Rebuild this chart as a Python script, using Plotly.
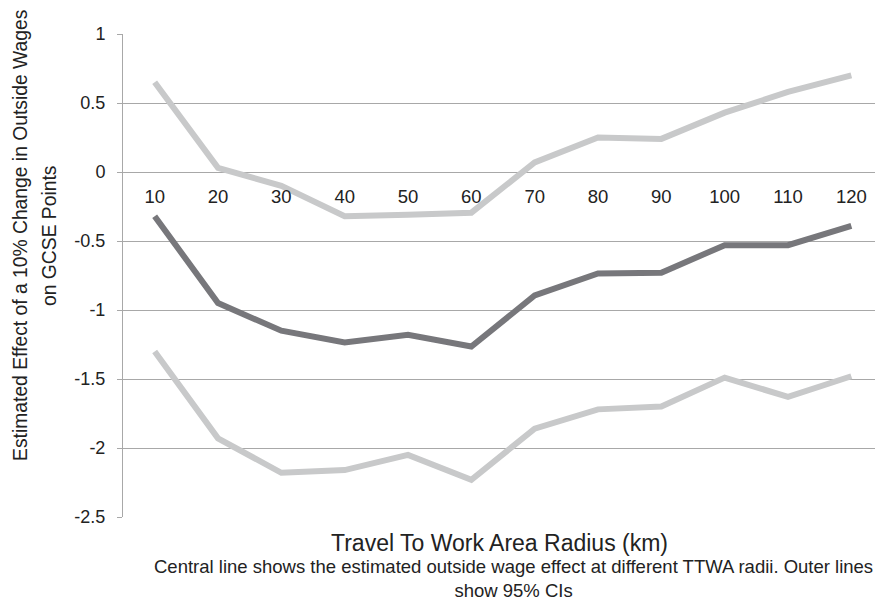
import plotly.graph_objects as go

radius = ["10", "20", "30", "40", "50", "60", "70", "80", "90", "100", "110", "120"]
upper_ci = [0.65, 0.03, -0.10, -0.32, -0.31, -0.295, 0.07, 0.25, 0.24, 0.43, 0.58, 0.70]
estimate = [-0.32, -0.95, -1.15, -1.235, -1.18, -1.265, -0.895, -0.735, -0.73, -0.53, -0.53, -0.39]
lower_ci = [-1.30, -1.93, -2.18, -2.16, -2.05, -2.23, -1.86, -1.72, -1.70, -1.49, -1.63, -1.48]

y_ticks = [1, 0.5, 0, -0.5, -1, -1.5, -2, -2.5]
y_min, y_max = -2.5, 1

light = "#c8c9ca"
dark = "#77777b"
text_col = "#222222"

fig = go.Figure()
for vals, col in [(upper_ci, light), (lower_ci, light), (estimate, dark)]:
    fig.add_trace(go.Scatter(x=radius, y=vals, mode="lines",
                             line=dict(color=col, width=6), showlegend=False))

zero_pos = (0 - y_min) / (y_max - y_min)

# page body has an 8px margin; the figure is sized to fit the window
fig.update_layout(
    width=875, height=599,
    margin=dict(l=115, r=0, t=26, b=90),
    paper_bgcolor="white", plot_bgcolor="white",
    font=dict(family="Liberation Sans, Arial, sans-serif", color=text_col),
    xaxis=dict(type="category", range=[-0.5, 11.5], anchor="free", position=zero_pos,
               showgrid=False, showline=False, zeroline=False, ticks="",
               ticklabelstandoff=11,
               tickfont=dict(size=18.5, color=text_col)),
    yaxis=dict(range=[y_min, y_max], tickvals=y_ticks,
               ticktext=[str(v) for v in y_ticks],
               showgrid=True, gridcolor="#a8a8a8", gridwidth=1,
               zeroline=False, showline=True, linecolor="#a8a8a8", linewidth=1,
               ticks="outside", ticklen=5, tickcolor="#a8a8a8",
               ticklabelstandoff=8,
               tickfont=dict(size=18, color=text_col)),
    annotations=[
        dict(text="Estimated Effect of a 10% Change in Outside Wages",
             xref="paper", yref="paper", x=-0.1342, y=0.582, xanchor="center", yanchor="middle",
             textangle=-90, showarrow=False, font=dict(size=19.3, color=text_col)),
        dict(text="on GCSE Points",
             xref="paper", yref="paper", x=-0.096, y=0.582, xanchor="center", yanchor="middle",
             textangle=-90, showarrow=False, font=dict(size=19.3, color=text_col)),
        dict(text="Travel To Work Area Radius (km)",
             xref="paper", yref="paper", x=0.496, y=-0.054, xanchor="center", yanchor="middle",
             showarrow=False, font=dict(size=23, color=text_col)),
        dict(text="Central line shows the estimated outside wage effect at different TTWA radii. Outer lines<br>show 95% CIs",
             xref="paper", yref="paper", x=0.514, y=-0.127, xanchor="center", yanchor="middle",
             showarrow=False, font=dict(size=18.5, color=text_col)),
    ],
)

fig.write_html("out.html")
